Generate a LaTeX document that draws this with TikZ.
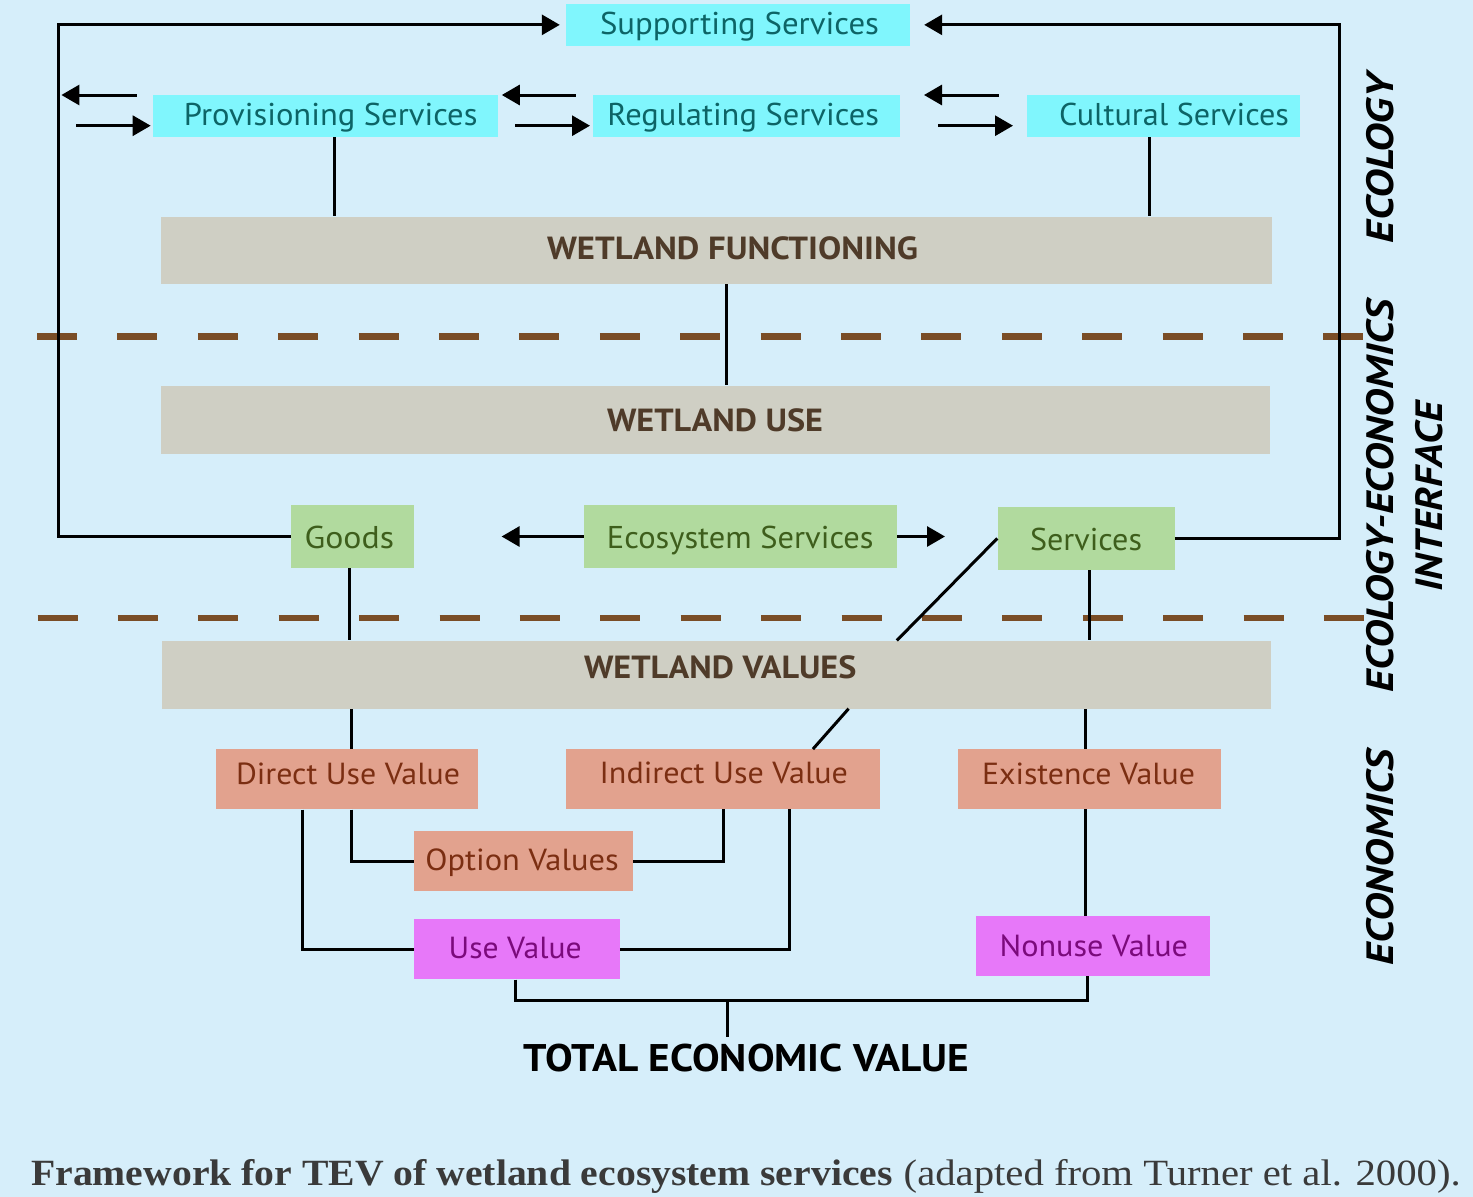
\documentclass[tikz,border=0pt]{standalone}
\usepackage{fontspec}
\setmainfont{PT Sans}
\newfontfamily\capfont{Liberation Serif}
\usepackage{graphicx}
\usetikzlibrary{arrows.meta}
\definecolor{bgblue}{HTML}{D6EEFA}
\definecolor{cyanbox}{HTML}{80F6FD}
\definecolor{cyantext}{HTML}{0D6466}
\definecolor{greybox}{HTML}{CFCFC4}
\definecolor{greytext}{HTML}{4F3B29}
\definecolor{greenbox}{HTML}{B1DA9E}
\definecolor{greentext}{HTML}{3E5E1C}
\definecolor{salmonbox}{HTML}{E2A28E}
\definecolor{salmontext}{HTML}{7B2E12}
\definecolor{magbox}{HTML}{E778F9}
\definecolor{magtext}{HTML}{7B0A7C}
\definecolor{dashbrown}{HTML}{7A4D26}
\definecolor{captext}{HTML}{3A3A3A}
\newcommand\fw[2]{\resizebox{#1pt}{\height}{#2}}
\begin{document}
\begin{tikzpicture}[x=1pt,y=-1pt,
  conn/.style={line width=3pt, black},
  arr/.style={-{Triangle[length=18pt,width=20pt]}},
  bx/.style={rectangle, inner sep=0pt, draw=none},
  cbx/.style={bx, fill=cyanbox},
  gbx/.style={bx, fill=greybox},
  grbx/.style={bx, fill=greenbox},
  sbx/.style={bx, fill=salmonbox},
  mbx/.style={bx, fill=magbox},
  txt/.style={inner sep=0pt, anchor=base},
  ctxt/.style={txt, text=cyantext, font=\fontsize{31.5}{36}\selectfont},
  gtxt/.style={txt, text=greytext, font=\fontsize{32}{36}\selectfont\bfseries},
  grtxt/.style={txt, text=greentext, font=\fontsize{31.5}{36}\selectfont},
  stxt/.style={txt, text=salmontext, font=\fontsize{30.5}{36}\selectfont},
  mtxt/.style={txt, text=magtext, font=\fontsize{30.5}{36}\selectfont},
  vtxt/.style={txt, rotate=90, text=black, font=\fontsize{38}{40}\selectfont\bfseries\itshape},
  dsh/.style={line width=6.5pt, draw=dashbrown, dash pattern=on 40pt off 40.4pt}
]
\fill[bgblue] (0,0) rectangle (1473,1197);
\useasboundingbox (0,0) rectangle (1473,1197);

% dashed separators
\coordinate (dl1) at (37,336.5);
\coordinate (dr1) at (1363,336.5);
\coordinate (dl2) at (37.5,618);
\coordinate (dr2) at (1364,618);
\draw[dsh] (dl1) -- (dr1);
\draw[dsh] (dl2) -- (dr2);

% boxes
\node[cbx, minimum width=344pt, minimum height=41.7pt] (sup) at (738,24.85) {};
\node[cbx, minimum width=344.5pt, minimum height=42pt] (prov) at (325.25,116) {};
\node[cbx, minimum width=307.9pt, minimum height=42pt] (reg) at (746.45,116) {};
\node[cbx, minimum width=273.2pt, minimum height=42pt] (cult) at (1163.4,116) {};
\node[gbx, minimum width=1111pt, minimum height=67.5pt] (wf) at (716.5,250.25) {};
\node[gbx, minimum width=1109pt, minimum height=68pt] (wu) at (715.5,419.5) {};
\node[gbx, minimum width=1109pt, minimum height=68.2pt] (wv) at (716.5,674.6) {};
\node[grbx, minimum width=122.6pt, minimum height=63pt] (goods) at (352.3,536.5) {};
\node[grbx, minimum width=312.8pt, minimum height=63pt] (eco) at (740.4,536.5) {};
\node[grbx, minimum width=177.2pt, minimum height=63.3pt] (serv) at (1086.1,538.35) {};
\node[sbx, minimum width=262.5pt, minimum height=60pt] (duv) at (346.75,779.3) {};
\node[sbx, minimum width=314pt, minimum height=59.7pt] (iuv) at (723,779.15) {};
\node[sbx, minimum width=263.3pt, minimum height=60pt] (ev) at (1089.15,779) {};
\node[sbx, minimum width=219pt, minimum height=60pt] (ov) at (523.5,861) {};
\node[mbx, minimum width=205.6pt, minimum height=60pt] (uv) at (516.8,949.3) {};
\node[mbx, minimum width=233.4pt, minimum height=60pt] (nuv) at (1093.1,946) {};

% texts
\node[ctxt] (tsup) at (739.5,34.3) {\fw{279}{Supporting Services}};
\node[ctxt] (tprov) at (330.7,125) {\fw{293.5}{Provisioning Services}};
\node[ctxt] (treg) at (743.2,125) {\fw{271.5}{Regulating Services}};
\node[ctxt] (tcult) at (1174,125) {\fw{230}{Cultural Services}};
\node[gtxt] (twf) at (732.5,259.3) {\fw{371}{WETLAND FUNCTIONING}};
\node[gtxt] (twu) at (715,431) {\fw{216}{WETLAND USE}};
\node[gtxt] (twv) at (720.2,678.3) {\fw{272.4}{WETLAND VALUES}};
\node[grtxt] (tgoods) at (349.3,548.3) {\fw{89.4}{Goods}};
\node[grtxt] (teco) at (740.3,548.3) {\fw{266.6}{Ecosystem Services}};
\node[grtxt] (tserv) at (1086,550) {\fw{112}{Services}};
\node[stxt] (tduv) at (348,784) {\fw{224}{Direct Use Value}};
\node[stxt] (tiuv) at (723.8,783.3) {\fw{248.4}{Indirect Use Value}};
\node[stxt] (tev) at (1088.5,784.3) {\fw{213}{Existence Value}};
\node[stxt] (tov) at (522,870) {\fw{193.4}{Option Values}};
\node[mtxt] (tuv) at (515.2,958.3) {\fw{133}{Use Value}};
\node[mtxt] (tnuv) at (1093.8,956) {\fw{188.5}{Nonuse Value}};
\node[txt, font=\fontsize{38.5}{42}\selectfont\bfseries] (tev2) at (746.5,1071) {\fw{445}{TOTAL ECONOMIC VALUE}};

% side labels
\node[vtxt] (lec) at (1393,158.5) {\fw{169}{ECOLOGY}};
\node[vtxt] (lee) at (1393,496) {\fw{392}{ECOLOGY-ECONOMICS}};
\node[vtxt] (lint) at (1442,496.7) {\fw{189.5}{INTERFACE}};
\node[vtxt] (leco) at (1393,857.5) {\fw{215}{ECONOMICS}};

% caption
\node[txt, anchor=base west, text=captext, font=\fontsize{37}{40}\selectfont\capfont] (cap) at (31,1185)
  {\fw{861.5}{\bfseries Framework for TEV of wetland ecosystem services}\hspace{11pt}\fw{557}{(adapted from Turner et al. 2000).}};

% big loops
\coordinate (lc) at (58,24.85);
\coordinate (rc) at (1339,24.85);
\draw[conn, arr, shorten >=6pt] (goods.west) -| (lc) -- (sup.west);
\draw[conn, arr, shorten >=14pt] (serv.east) -| (rc) -- (sup.east);

% small arrows
\coordinate (a1s) at (136.8,95);   \coordinate (a1e) at (61.4,95);
\coordinate (a2s) at (76,125.7);   \coordinate (a2e) at (150.7,125.7);
\coordinate (a3s) at (575.7,95);   \coordinate (a3e) at (501.8,95);
\coordinate (a4s) at (515.4,125.7);\coordinate (a4e) at (590,125.7);
\coordinate (a5s) at (998.6,95);   \coordinate (a5e) at (924,95);
\coordinate (a6s) at (938,125.7);  \coordinate (a6e) at (1013,125.7);
\draw[conn, arr] (a1s) -- (a1e);
\draw[conn, arr] (a2s) -- (a2e);
\draw[conn, arr] (a3s) -- (a3e);
\draw[conn, arr] (a4s) -- (a4e);
\draw[conn, arr] (a5s) -- (a5e);
\draw[conn, arr] (a6s) -- (a6e);

% ecology links
\draw[conn] ([xshift=8.8pt]prov.south) -- ([xshift=8.8pt]prov.south |- wf.north);
\draw[conn] ([xshift=-14.1pt]cult.south) -- ([xshift=-14.1pt]cult.south |- wf.north);
\draw[conn] ([xshift=10pt]wf.south) -- ([xshift=10pt]wf.south |- wu.north);

% ecosystem services arrows
\draw[conn, arr] (eco.west) -- ++(-82.2,0);
\draw[conn, arr] (eco.east) -- ++(48,0);

% goods / services to values
\draw[conn] ([xshift=-2.7pt]goods.south) -- ([xshift=-2.7pt]goods.south |- wv.north);
\draw[conn] ([xshift=3pt]serv.south) -- ([xshift=3pt]serv.south |- wv.north);
\coordinate (d1) at (896.8,640.5);
\coordinate (d2) at (848.6,708.7);
\draw[conn] (serv.west) -- (d1);
\draw[conn] (d2) -- ([xshift=89.9pt]iuv.north);

% values to value types
\draw[conn] ([xshift=5.2pt]duv.north) -- ([xshift=5.2pt]duv.north |- wv.south);
\draw[conn] ([xshift=-3.2pt]ev.north) -- ([xshift=-3.2pt]ev.north |- wv.south);
\draw[conn] ([xshift=5.2pt]duv.south) |- (ov.west);
\draw[conn] (ov.east) -| ([xshift=0.7pt]iuv.south);
\draw[conn] ([xshift=-44.1pt]duv.south) |- (uv.west);
\draw[conn] (uv.east) -| ([xshift=66pt]iuv.south);
\draw[conn] ([xshift=-3.2pt]ev.south) -- ([xshift=-3.2pt]ev.south |- nuv.north);

% total
\coordinate (tj) at (727,1000.7);
\draw[conn] ([xshift=-1.8pt]uv.south) |- (tj) -| ([xshift=-5.5pt]nuv.south);
\draw[conn] (tj) -- ++(0,36);
\end{tikzpicture}
\end{document}
